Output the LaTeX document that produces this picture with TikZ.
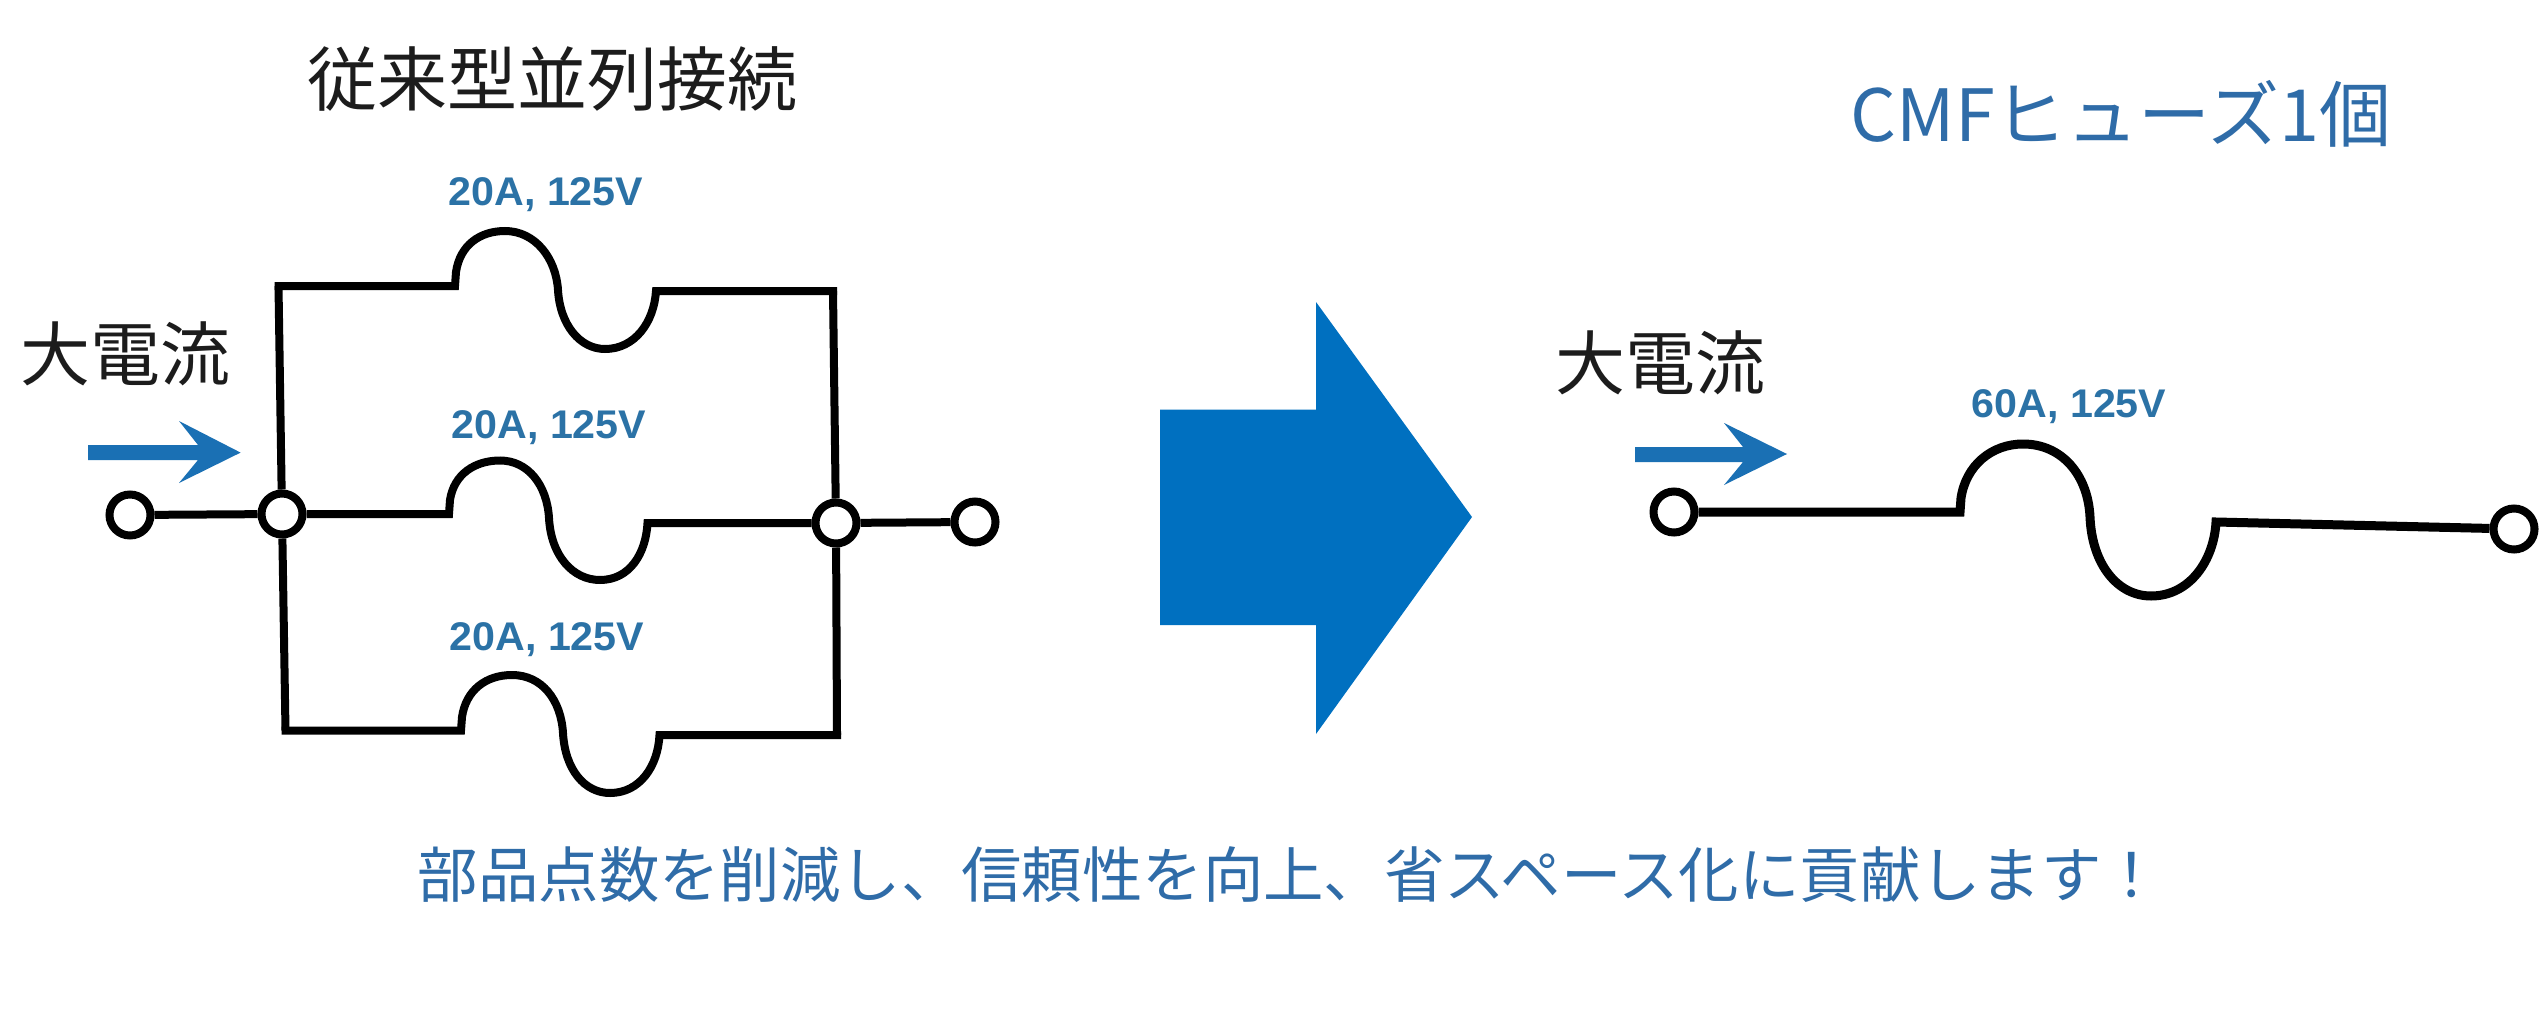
\documentclass[tikz,border=0pt]{standalone}
\usepackage{fontspec}
\newfontfamily\jpf{Noto Sans CJK JP}
\setmainfont{Liberation Sans}
\definecolor{bigblue}{HTML}{0070C0}
\definecolor{arrowblue}{HTML}{1A70B4}
\definecolor{titleblue}{HTML}{2F6CA8}
\definecolor{ratingblue}{HTML}{2B72A6}
\definecolor{ink}{HTML}{1C1C1C}
\newcommand{\rating}[1]{\scalebox{1.03}[1]{\fontsize{40}{44}\selectfont\bfseries #1}}
\tikzset{
  wire/.style={draw=black,line width=8pt,line join=miter},
  term/.style={circle,draw=black,line width=8pt,fill=white,minimum size=41pt,inner sep=0pt},
  ratingtext/.style={text=ratingblue,inner sep=0pt,anchor=center},
  bigtext/.style={text=ink,inner sep=0pt,anchor=center,font=\jpf\fontsize{70}{74}\selectfont},
  bluetext/.style={text=titleblue,inner sep=0pt,anchor=center},
  flow/.style={fill=arrowblue,draw=none}
}
\begin{document}
\begin{tikzpicture}[x=1pt,y=-1pt]
\useasboundingbox[fill=white] (0,0) rectangle (2540,1027);
% texts
\node[bigtext] (title1) at (552,79) {従来型並列接続};
\node[bluetext,font=\jpf\fontsize{72}{76}\selectfont] (title2) at (2121,114) {CMFヒューズ1個};
\node[bigtext] (cur1) at (125,354) {大電流};
\node[bigtext] (cur2) at (1660,363) {大電流};
\node[ratingtext] (r1) at (546,195) {\rating{20A, 125V}};
\node[ratingtext] (r2) at (549,428) {\rating{20A, 125V}};
\node[ratingtext] (r3) at (547,640) {\rating{20A, 125V}};
\node[ratingtext] (r4) at (2069,407) {\rating{60A, 125V}};
\node[bluetext,font=\jpf\fontsize{60.4}{64}\selectfont] (foot) at (1290,875) {部品点数を削減し、信頼性を向上、省スペース化に貢献します！};
% big arrow
\fill[bigblue] (1160,409.5) -- (1316,409.5) -- (1316,302) -- (1472,517) -- (1316,734) -- (1316,625) -- (1160,625) -- cycle;
% flow arrows
\fill[flow] (88,445) -- (198,445) -- (179,421) -- (240.6,452.6) -- (179,483) -- (198,460) -- (88,460) -- cycle;
\fill[flow] (1635,447) -- (1743,447) -- (1724,423) -- (1787,454) -- (1724,485) -- (1743,462) -- (1635,462) -- cycle;
% terminals
\node[term] (tl) at (130,515) {};
\node[term] (jl) at (282,514) {};
\node[term] (jr) at (836,523) {};
\node[term] (tr) at (975,522) {};
\node[term] (t2l) at (1674,512) {};
\node[term] (t2r) at (2514,529) {};
% corners
\coordinate (c1) at (278.5,286);
\coordinate (c2) at (833,291);
\coordinate (c3) at (285.5,730.5);
\coordinate (c4) at (837,735);
\draw[wire] (tl) -- (jl);
\draw[wire] (jr) -- (tr);
\draw[wire] (jl) -- (c1);
\draw[wire] (jl) -- (c3);
\draw[wire] (jr) -- (c2);
\draw[wire] (jr) -- (c4);
% top fuse
\draw[wire] (274.5,286) -- (455,286) -- (456,272)
  .. controls (460,245) and (480,231) .. (505,231)
  .. controls (535,231) and (556,258) .. (558,290)
  .. controls (560,325) and (580,349) .. (605,349)
  .. controls (635,349) and (654,322) .. (656,291)
  -- (837,291);
% middle fuse
\draw[wire] (jl) -- (449,514) -- (450,500)
  .. controls (454,474) and (475,460.5) .. (500,460.5)
  .. controls (528,460.5) and (547,485) .. (549,518)
  .. controls (551,556) and (573,580) .. (600,580)
  .. controls (630,580) and (646,553) .. (647.5,523)
  -- (jr);
% bottom fuse
\draw[wire] (281.5,730.5) -- (461,730.5) -- (462,717)
  .. controls (466,690) and (486,675) .. (512,675)
  .. controls (542,675) and (561,700) .. (563,733)
  .. controls (565,770) and (585,793) .. (610,793)
  .. controls (640,793) and (658,766) .. (659.5,735)
  -- (841,735);
% single fuse
\draw[wire,line width=9pt] (t2l) -- (1960,512) -- (1961,498)
  .. controls (1966,465) and (1992,444) .. (2023,444)
  .. controls (2062,444) and (2088,475) .. (2090,517)
  .. controls (2092,565) and (2118,596) .. (2151,596)
  .. controls (2190,596) and (2214,560) .. (2216,522)
  -- (t2r);
\end{tikzpicture}
\end{document}
